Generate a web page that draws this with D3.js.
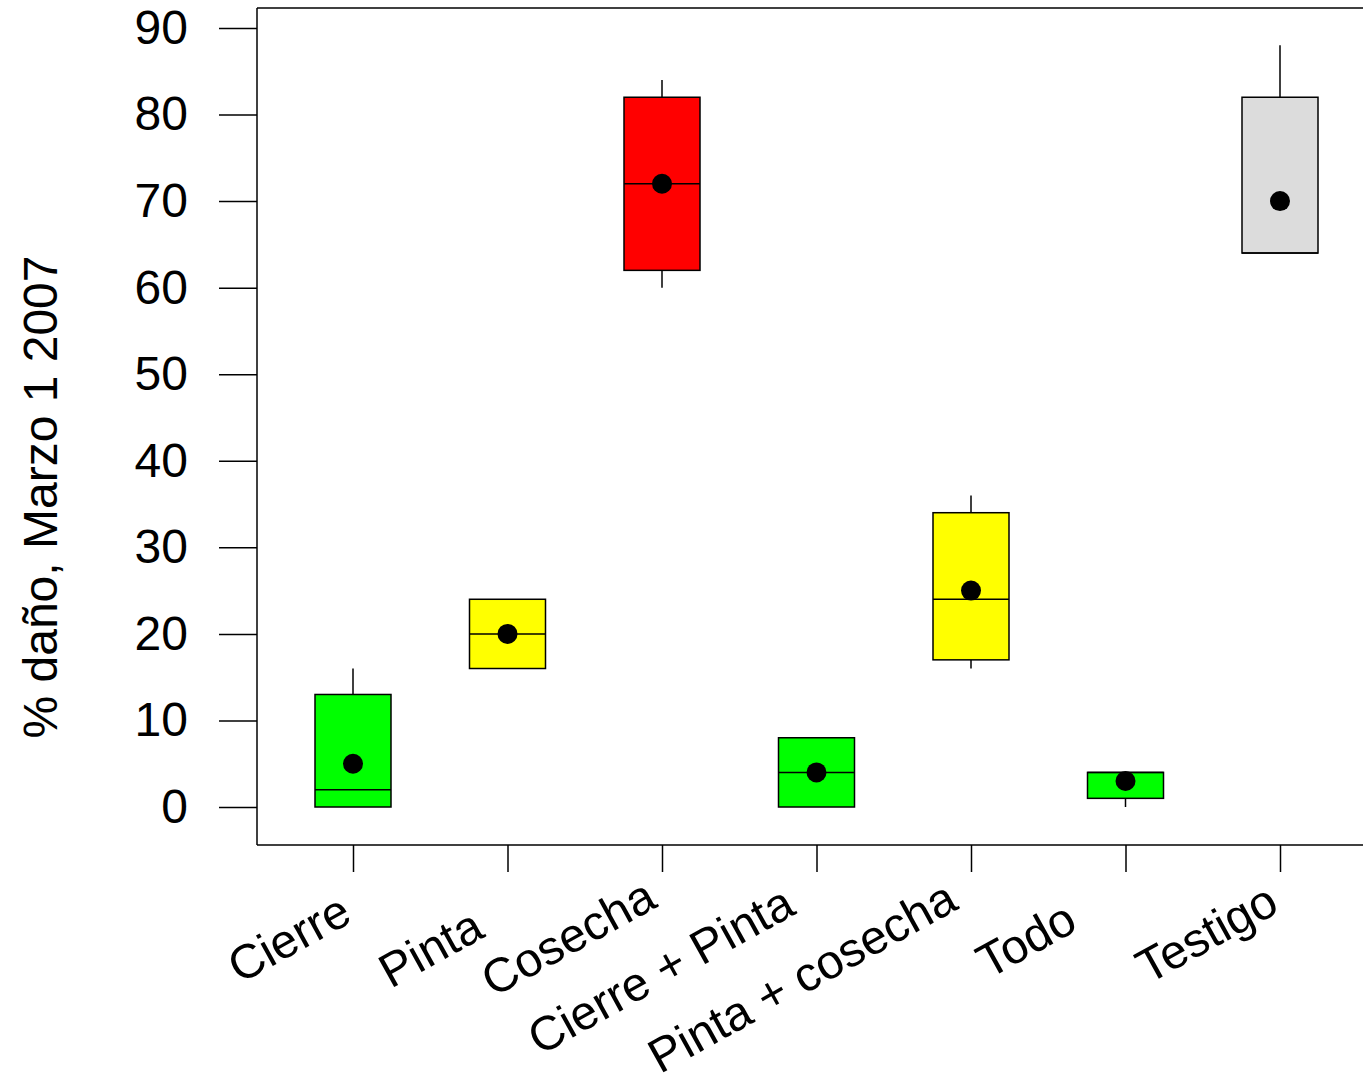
<!DOCTYPE html>
<html><head><meta charset="utf-8">
<script src="https://cdn.jsdelivr.net/npm/d3@7"></script>
<style>body{margin:0;background:#fff}svg{display:block;font-family:Arial,"Liberation Sans",sans-serif}</style>
</head><body><svg id="c" width="1363" height="1089"></svg>
<script>
const categories = ["Cierre","Pinta","Cosecha","Cierre + Pinta","Pinta + cosecha","Todo","Testigo"];
const mins    = [0, 16, 60, 0, 16, 0, 64];
const q1s     = [0, 16, 62, 0, 17, 1, 64];
const medians = [2, 20, 72, 4, 24, 4, 64];
const q3s     = [13, 24, 82, 8, 34, 4, 82];
const maxs    = [16, 24, 84, 8, 36, 4, 88];
const means   = [5, 20, 72, 4, 25, 3, 70];
const colors  = ["#00ff00","#ffff00","#ff0000","#00ff00","#ffff00","#00ff00","#dcdcdc"];
const yTicks  = [0,10,20,30,40,50,60,70,80,90];

(function(){
const svg = d3.select("#c");
const pLeft = 257, pTop = 8, pRight = 1363, pBottom = 845;
const y = d3.scaleLinear().domain([0, 90]).range([807, 28]);
const x = d3.scalePoint().domain(categories).range([353, 1280]);
const bw = 76;
const FS = 48;
// manual label nudges (layout only)
const labelNudge = {"Cierre":[1,921],"Pinta":[-21,936],"Cosecha":[-3,906],"Cierre + Pinta":[-19,913],
  "Pinta + cosecha":[-11,908],"Todo":[-46,929],"Testigo":[1,911]};

// frame
svg.append("line").attr("x1",pLeft).attr("x2",pRight).attr("y1",pTop).attr("y2",pTop).attr("stroke","#000").attr("stroke-width",1.5);
svg.append("line").attr("x1",pLeft).attr("x2",pRight).attr("y1",pBottom).attr("y2",pBottom).attr("stroke","#000").attr("stroke-width",1.5);
svg.append("line").attr("x1",pLeft).attr("x2",pLeft).attr("y1",pTop).attr("y2",pBottom).attr("stroke","#000").attr("stroke-width",1.5);

// y axis
const ya = svg.append("g").attr("transform",`translate(${pLeft},0)`)
  .call(d3.axisLeft(y).tickValues(yTicks).tickSize(38).tickPadding(31));
ya.select(".domain").remove();
ya.selectAll(".tick line").attr("stroke-width",1.5);
ya.selectAll("text").attr("font-size",FS).attr("font-family","Arial, 'Liberation Sans', sans-serif").attr("fill","#000");

// x axis
const xa = svg.append("g").attr("transform",`translate(0,${pBottom})`)
  .call(d3.axisBottom(x).tickSize(27).tickFormat(""));
xa.select(".domain").remove();
xa.selectAll(".tick line").attr("stroke-width",1.5);

svg.append("g").selectAll("text").data(categories).join("text")
  .attr("transform", d => `translate(${x(d)+labelNudge[d][0]},${labelNudge[d][1]}) rotate(-29)`)
  .attr("text-anchor","end").attr("font-size",FS).attr("fill","#000").text(d => d);

// y title
svg.append("text").attr("transform","translate(57,497) rotate(-90)")
  .attr("text-anchor","middle").attr("font-size",FS).attr("fill","#000").text("% daño, Marzo 1 2007");

// boxes
const g = svg.append("g");
d3.range(categories.length).forEach(i => {
  const cx = x(categories[i]);
  g.append("line").attr("x1",cx).attr("x2",cx).attr("y1",y(maxs[i])).attr("y2",y(q3s[i])).attr("stroke","#000").attr("stroke-width",1.5);
  g.append("line").attr("x1",cx).attr("x2",cx).attr("y1",y(q1s[i])).attr("y2",y(mins[i])).attr("stroke","#000").attr("stroke-width",1.5);
  g.append("rect").attr("x",cx-bw/2).attr("width",bw).attr("y",y(q3s[i])).attr("height",y(q1s[i])-y(q3s[i]))
    .attr("fill",colors[i]).attr("stroke","#000").attr("stroke-width",1.5);
  g.append("line").attr("x1",cx-bw/2).attr("x2",cx+bw/2).attr("y1",y(medians[i])).attr("y2",y(medians[i])).attr("stroke","#000").attr("stroke-width",1.5);
  g.append("circle").attr("cx",cx).attr("cy",y(means[i])).attr("r",10).attr("fill","#000");
});
})();
</script></body></html>
